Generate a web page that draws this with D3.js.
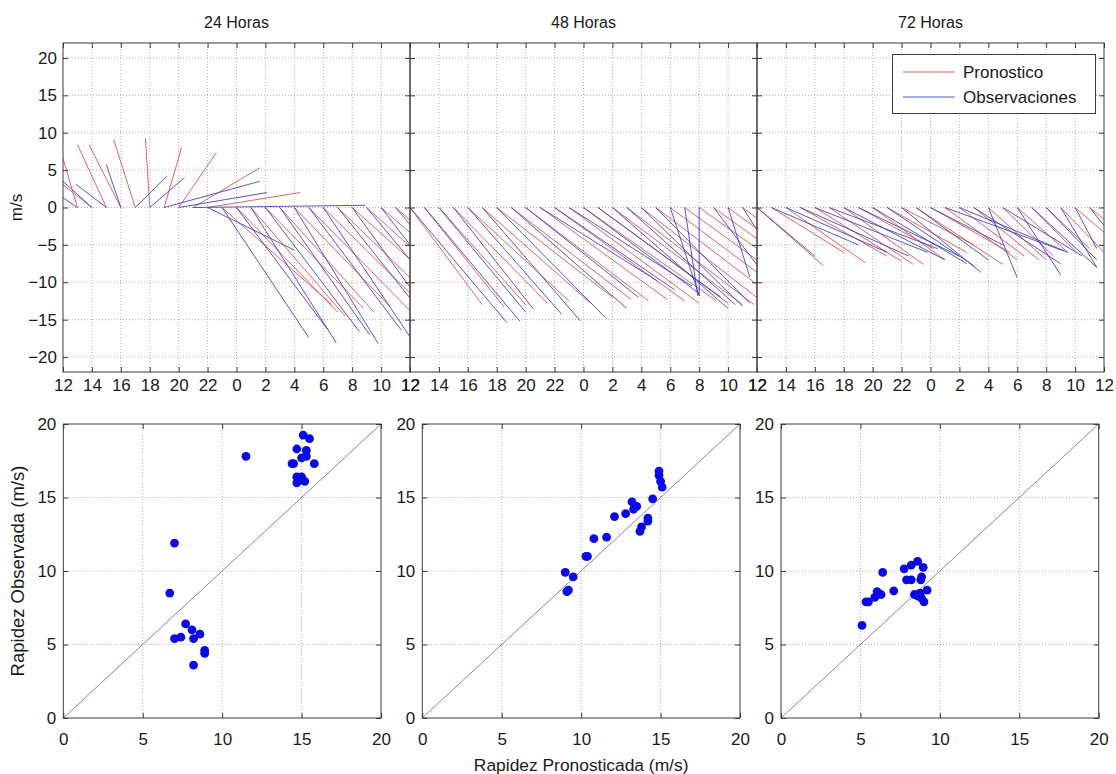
<!DOCTYPE html>
<html>
<head>
<meta charset="utf-8">
<script src="https://cdn.jsdelivr.net/npm/d3@7"></script>
<style>
  body { margin: 0; background: #fff; }
  text { font-family: "Liberation Sans", Arial, Helvetica, sans-serif; fill: #1a1a1a; }
</style>
</head>
<body>
<svg id="chart" width="1116" height="774"></svg>
<script>
// ---------- data ----------
const panelTitles = ["24 Horas", "48 Horas", "72 Horas"];
const stickHours = [12,13,14,15,16,17,18,19,20,21,22,23,24,25,26,27,28,29,30,31,32,33,34,35];
const xTickHours = [12,14,16,18,20,22,24,26,28,30,32,34,36];
const xTickLabels = ["12","14","16","18","20","22","0","2","4","6","8","10","12"];
const yTicksStick = [-20,-15,-10,-5,0,5,10,15,20];

// wind components [u, v] in m/s, one per hour
const pron24 = [[-1.5,4.5],[-1.05,6.9],[-2.5,3.8],[-2.0,8.4],[-2.2,8.4],[-1.5,9.1],[-0.3,9.3],[1.2,8.0],
  [2.6,7.3],[4.6,5.3],[6.4,2.0],[7.6,-13.0],[7.0,-14.0],[6.5,-14.5],[6.8,-13.5],[6.5,-14.0],
  [6.6,-13.2],[7.0,-13.8],[6.8,-13.0],[7.2,-13.5],[7.4,-12.8],[7.5,-13.0],[7.4,-12.5],[7.6,-12.8]];
const obs24 = [[-2.0,2.5],[-1.0,1.3],[-2.0,3.5],[-2.1,3.1],[-1.0,5.7],[2.2,4.2],[2.4,4.0],[6.6,3.5],
  [6.1,2.0],[11.9,0.3],[6.0,-5.7],[6.0,-17.4],[6.3,-16.3],[5.9,-18.1],[6.5,-16.6],[6.2,-17.0],
  [5.8,-18.2],[6.4,-16.4],[6.0,-17.3],[6.6,-16.0],[6.3,-16.8],[6.8,-15.8],[6.5,-16.2],[6.8,-15.5]];

const pron48 = [[5.0,-13.0],[5.5,-13.3],[6.0,-13.0],[6.5,-12.8],[7.0,-12.5],[7.5,-12.8],[8.0,-12.0],[8.3,-12.3],
  [8.5,-12.5],[8.8,-12.3],[9.0,-12.5],[9.0,-12.8],[9.2,-12.5],[9.0,-12.8],[9.0,-13.0],[8.8,-13.0],
  [8.5,-12.8],[8.5,-12.5],[8.3,-12.0],[8.2,-11.5],[8.0,-11.0],[7.5,-10.5],[7.0,-10.0],[6.5,-9.5]];
const obs48 = [[6.7,-15.4],[6.6,-15.2],[6.0,-14.0],[5.5,-13.5],[6.5,-14.3],[6.8,-15.2],[7.5,-14.7],[8.0,-13.5],
  [7.8,-12.0],[8.1,-9.8],[8.3,-11.0],[8.5,-10.5],[8.0,-11.5],[8.5,-12.0],[8.0,-13.5],[7.5,-13.0],
  [7.0,-13.2],[6.5,-12.8],[2.0,-11.8],[0.9,-11.8],[0.0,-11.8],[5.0,-12.8],[1.5,-9.3],[3.0,-9.0]];

const pron72 = [[4.6,-7.8],[5.0,-6.0],[5.5,-7.4],[6.0,-6.5],[6.0,-7.2],[5.8,-7.6],[5.5,-7.6],[5.2,-5.5],
  [5.0,-7.0],[5.5,-6.0],[5.0,-5.0],[6.0,-7.6],[5.5,-6.0],[5.0,-7.0],[4.5,-6.5],[4.5,-7.0],
  [4.0,-7.0],[3.5,-6.5],[3.5,-6.0],[3.0,-5.8],[3.0,-5.5],[3.0,-6.0],[3.0,-5.0],[3.5,-5.5]];
const obs72 = [[4.0,-6.5],[6.0,-5.0],[7.0,-6.0],[7.5,-6.5],[7.8,-6.0],[7.5,-5.5],[7.0,-7.0],[7.0,-6.5],
  [6.5,-7.5],[6.0,-7.8],[5.5,-8.7],[5.0,-7.0],[5.0,-5.0],[8.2,-5.8],[7.5,-6.0],[6.0,-7.5],
  [2.0,-9.4],[5.5,-6.5],[3.0,-9.0],[4.5,-8.0],[3.5,-7.0],[2.5,-8.0],[1.5,-5.5],[2.5,-6.0]];

const legendLabels = ["Pronostico", "Observaciones"];

// forecast vs observed speed (m/s)
const scatterTicks = [0,5,10,15,20];
const spd24Pron = [11.5,15.1,15.5,14.7,15.3,14.4,14.5,15.0,15.3,15.8,14.7,15.0,14.7,15.2,14.9,7.0,6.7,7.0,7.4,7.7,8.1,8.2,8.6,8.9,8.9,8.2];
const spd24Obs  = [17.8,19.25,19.0,18.3,18.2,17.3,17.3,17.7,17.8,17.3,16.4,16.4,16.0,16.1,16.2,11.9,8.5,5.4,5.5,6.4,6.0,5.4,5.7,4.6,4.4,3.6];
const spd48Pron = [14.9,14.9,15.0,15.1,14.5,13.2,13.5,13.3,12.8,12.1,14.2,14.2,13.8,13.7,11.6,10.8,10.3,9.0,9.5,9.1,9.2,10.4];
const spd48Obs  = [16.8,16.5,16.1,15.7,14.9,14.7,14.4,14.2,13.9,13.7,13.6,13.4,13.0,12.7,12.3,12.2,11.0,9.9,9.6,8.6,8.7,11.0];
const spd72Pron = [5.1,5.35,5.5,5.9,6.05,6.3,6.4,7.1,7.75,8.2,8.6,8.95,7.9,8.2,8.85,8.8,8.4,8.75,9.2,8.85,9.0,8.6];
const spd72Obs  = [6.3,7.9,7.9,8.2,8.6,8.4,9.9,8.65,10.15,10.4,10.65,10.25,9.4,9.4,9.6,9.4,8.4,8.5,8.7,8.15,7.9,8.3];

const xAxisTitle = "Rapidez Pronosticada (m/s)";
const yAxisTitle = "Rapidez Observada (m/s)";
const stickYTitle = "m/s";

// ---------- styles ----------
const RED = "#d64a4f";
const BLUE = "#3a3ab8";
const FRAME = "#3a3a3a";
const GRID = "#9a9a9a";
const FONT = 17;
const FAMILY = '"Liberation Sans", Arial, sans-serif';

const svg = d3.select("#chart");
const defs = svg.append("defs");

function styleAxis(sel, withText) {
  sel.select(".domain").remove();
  sel.selectAll(".tick line").attr("stroke", FRAME);
  if (withText) {
    sel.selectAll(".tick text").attr("font-size", FONT).attr("fill", "#1a1a1a").attr("font-family", FAMILY);
  }
}

// ---------- top row: stick plots ----------
const stickBox = { left: 63, width: 347, y0: 43, y1: 372 };
const stickY = d3.scaleLinear().domain([-22, 22]).range([stickBox.y1, stickBox.y0]);
const stickSets = [[pron24, obs24], [pron48, obs48], [pron72, obs72]];

stickSets.forEach((pair, i) => {
  const x0 = stickBox.left + i * stickBox.width;
  const x = d3.scaleLinear().domain([12, 36]).range([x0, x0 + stickBox.width]);
  const g = svg.append("g");

  defs.append("clipPath").attr("id", "clip" + i)
    .append("rect").attr("x", x0).attr("y", stickBox.y0)
    .attr("width", stickBox.width).attr("height", stickBox.y1 - stickBox.y0);

  // grid
  g.selectAll(null).data(xTickHours.slice(1, -1)).join("line")
    .attr("x1", d => x(d)).attr("x2", d => x(d)).attr("y1", stickBox.y0).attr("y2", stickBox.y1)
    .attr("stroke", GRID).attr("stroke-width", 0.8).attr("stroke-dasharray", "1,2");
  g.selectAll(null).data(yTicksStick).join("line")
    .attr("x1", x0).attr("x2", x0 + stickBox.width).attr("y1", d => stickY(d)).attr("y2", d => stickY(d))
    .attr("stroke", GRID).attr("stroke-width", 0.8).attr("stroke-dasharray", "1,2");

  // sticks: forecast first, observations on top
  const sg = g.append("g").attr("clip-path", `url(#clip${i})`);
  [[pair[0], RED], [pair[1], BLUE]].forEach(([data, col]) => {
    sg.selectAll(null).data(data).join("line")
      .attr("x1", (d, k) => x(stickHours[k])).attr("y1", stickY(0))
      .attr("x2", (d, k) => x(stickHours[k] + d[0])).attr("y2", d => stickY(d[1]))
      .attr("stroke", col).attr("stroke-width", 1).attr("stroke-opacity", 0.85);
  });

  // inward ticks on all four sides
  styleAxis(g.append("g").attr("transform", `translate(0,${stickBox.y1})`)
    .call(d3.axisBottom(x).tickValues(xTickHours).tickSize(-5).tickPadding(7)
      .tickFormat((d, k) => xTickLabels[k])), true);
  styleAxis(g.append("g").attr("transform", `translate(0,${stickBox.y0})`)
    .call(d3.axisTop(x).tickValues(xTickHours).tickSize(-5).tickFormat("")), false);
  styleAxis(g.append("g").attr("transform", `translate(${x0},0)`)
    .call(d3.axisLeft(stickY).tickValues(yTicksStick).tickSize(-5).tickPadding(6)
      .tickFormat(i === 0 ? d3.format("d") : "")), true);
  styleAxis(g.append("g").attr("transform", `translate(${x0 + stickBox.width},0)`)
    .call(d3.axisRight(stickY).tickValues(yTicksStick).tickSize(-5).tickFormat("")), false);

  // frame
  g.append("rect").attr("x", x0).attr("y", stickBox.y0).attr("width", stickBox.width)
    .attr("height", stickBox.y1 - stickBox.y0)
    .attr("fill", "none").attr("stroke", FRAME).attr("stroke-width", 1);

  // title
  svg.append("text").attr("x", x0 + stickBox.width / 2).attr("y", 28).attr("text-anchor", "middle")
    .attr("font-size", 16).text(panelTitles[i]);
});

svg.append("text").attr("transform", `translate(22,${stickY(0)}) rotate(-90)`)
  .attr("text-anchor", "middle").attr("font-size", FONT).text(stickYTitle);

// legend
const lg = svg.append("g");
lg.append("rect").attr("x", 892.5).attr("y", 54.5).attr("width", 203).attr("height", 59)
  .attr("fill", "#fff").attr("stroke", FRAME).attr("stroke-width", 1);
[[RED, 72], [BLUE, 97]].forEach(([col, yy], k) => {
  lg.append("line").attr("x1", 903).attr("x2", 955).attr("y1", yy).attr("y2", yy)
    .attr("stroke", col).attr("stroke-width", 1.2).attr("stroke-opacity", 0.85);
  lg.append("text").attr("x", 963).attr("y", yy + 6).attr("font-size", 17).text(legendLabels[k]);
});

// ---------- bottom row: speed scatter ----------
const scatBox = { lefts: [63.3, 422.3, 781], width: 317.7, y0: 424, y1: 718 };
const scatterSets = [[spd24Pron, spd24Obs], [spd48Pron, spd48Obs], [spd72Pron, spd72Obs]];
const sy = d3.scaleLinear().domain([0, 20]).range([scatBox.y1, scatBox.y0]);

scatterSets.forEach((pair, i) => {
  const x0 = scatBox.lefts[i];
  const sx = d3.scaleLinear().domain([0, 20]).range([x0, x0 + scatBox.width]);
  const g = svg.append("g");

  g.selectAll(null).data(scatterTicks.slice(1, -1)).join("line")
    .attr("x1", d => sx(d)).attr("x2", d => sx(d)).attr("y1", scatBox.y0).attr("y2", scatBox.y1)
    .attr("stroke", GRID).attr("stroke-width", 0.8).attr("stroke-dasharray", "1,2");
  g.selectAll(null).data(scatterTicks.slice(1, -1)).join("line")
    .attr("x1", x0).attr("x2", x0 + scatBox.width).attr("y1", d => sy(d)).attr("y2", d => sy(d))
    .attr("stroke", GRID).attr("stroke-width", 0.8).attr("stroke-dasharray", "1,2");

  // 1:1 reference line
  g.append("line").attr("x1", sx(0)).attr("y1", sy(0)).attr("x2", sx(20)).attr("y2", sy(20))
    .attr("stroke", "#8282c4").attr("stroke-width", 1);

  // points
  g.selectAll(null).data(pair[0]).join("circle")
    .attr("cx", d => sx(d)).attr("cy", (d, k) => sy(pair[1][k])).attr("r", 4.4)
    .attr("fill", "#0a0ae6");

  styleAxis(g.append("g").attr("transform", `translate(0,${scatBox.y1})`)
    .call(d3.axisBottom(sx).tickValues(scatterTicks).tickSize(-5).tickPadding(15)
      .tickFormat(d3.format("d"))), true);
  styleAxis(g.append("g").attr("transform", `translate(0,${scatBox.y0})`)
    .call(d3.axisTop(sx).tickValues(scatterTicks).tickSize(-5).tickFormat("")), false);
  styleAxis(g.append("g").attr("transform", `translate(${x0},0)`)
    .call(d3.axisLeft(sy).tickValues(scatterTicks).tickSize(-5).tickPadding(7)
      .tickFormat(d3.format("d"))), true);
  styleAxis(g.append("g").attr("transform", `translate(${x0 + scatBox.width},0)`)
    .call(d3.axisRight(sy).tickValues(scatterTicks).tickSize(-5).tickFormat("")), false);

  g.append("rect").attr("x", x0).attr("y", scatBox.y0).attr("width", scatBox.width)
    .attr("height", scatBox.y1 - scatBox.y0)
    .attr("fill", "none").attr("stroke", FRAME).attr("stroke-width", 1);
});

svg.append("text").attr("x", scatBox.lefts[1] + scatBox.width / 2).attr("y", 771).attr("text-anchor", "middle")
  .attr("font-size", 17.4).text(xAxisTitle);
svg.append("text").attr("transform", `translate(24,${(scatBox.y0 + scatBox.y1) / 2}) rotate(-90)`)
  .attr("text-anchor", "middle").attr("font-size", 18.5).text(yAxisTitle);
</script>
</body>
</html>
